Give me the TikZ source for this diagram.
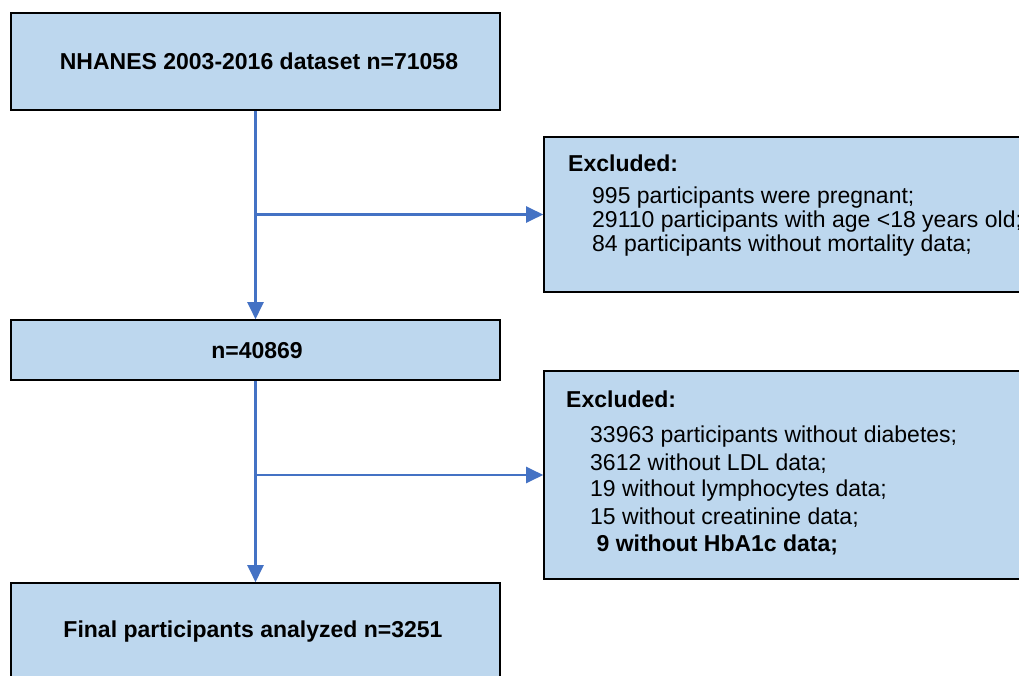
\documentclass[tikz,border=0pt]{standalone}
\usepackage{fontspec}
\setmainfont{Liberation Sans}
\usetikzlibrary{arrows.meta}
\definecolor{boxfill}{RGB}{189,215,238}
\definecolor{arrowblue}{RGB}{68,114,196}
\tikzset{
  flowbox/.style={draw=black, line width=1.6pt, fill=boxfill, rectangle, inner sep=0pt},
  flowarrow/.style={draw=arrowblue, line width=2.2pt, -{Triangle[width=16pt,length=17pt]}},
  boxtext/.style={font=\fontsize{23}{26}\selectfont\bfseries, inner sep=0pt},
  listtext/.style={font=\fontsize{23}{26}\selectfont, inner sep=0pt, anchor=west},
  listhead/.style={listtext, font=\fontsize{23}{26}\selectfont\bfseries},
}
\begin{document}
\begin{tikzpicture}[x=1pt,y=-1pt]
\useasboundingbox (0,0) rectangle (1019,676);
\clip (0,0) rectangle (1019,676);
% left boxes
\node[flowbox, minimum width=489pt, minimum height=97pt] (box1) at (255.5,61.5) {};
\node[boxtext] (t1) at (259,61) {NHANES 2003-2016 dataset n=71058};
\node[flowbox, minimum width=489pt, minimum height=60pt] (box2) at (255.5,350) {};
\node[boxtext] (t2) at (257,351) {n=40869};
\node[flowbox, minimum width=489pt, minimum height=97pt] (box3) at (255.5,631.5) {};
\node[boxtext] (t3) at (253,632) {Final participants analyzed n=3251};
% right boxes
\node[flowbox, minimum width=486pt, minimum height=155pt] (ex1) at (787,214.5) {};
\node[listhead] (ex1h) at (568,163) {Excluded:};
\node[listtext] (ex1a) at (592,198) {995 participants were pregnant;};
\node[listtext] (ex1b) at (592,222) {29110 participants with age <18 years old;};
\node[listtext] (ex1c) at (592,246) {84 participants without mortality data;};
\node[flowbox, minimum width=486pt, minimum height=208pt] (ex2) at (787,475) {};
\node[listhead] (ex2h) at (566,399) {Excluded:};
\node[listtext] (ex2a) at (590,437) {33963 participants without diabetes;};
\node[listtext] (ex2b) at (590,464) {3612 without LDL data;};
\node[listtext] (ex2c) at (590,491) {19 without lymphocytes data;};
\node[listtext] (ex2d) at (590,518) {15 without creatinine data;};
\node[listhead] (ex2e) at (590,545) {\ 9 without HbA1c data;};
% connectors
\coordinate (j1) at (box1.south |- ex1.west);
\coordinate (j2) at (box2.south |- ex2.west);
\draw[flowarrow] (box1.south) -- (box2.north);
\draw[flowarrow] (j1) -- (ex1.west);
\draw[flowarrow] (box2.south) -- (box3.north);
\draw[flowarrow] (j2) -- (ex2.west);
\end{tikzpicture}
\end{document}
